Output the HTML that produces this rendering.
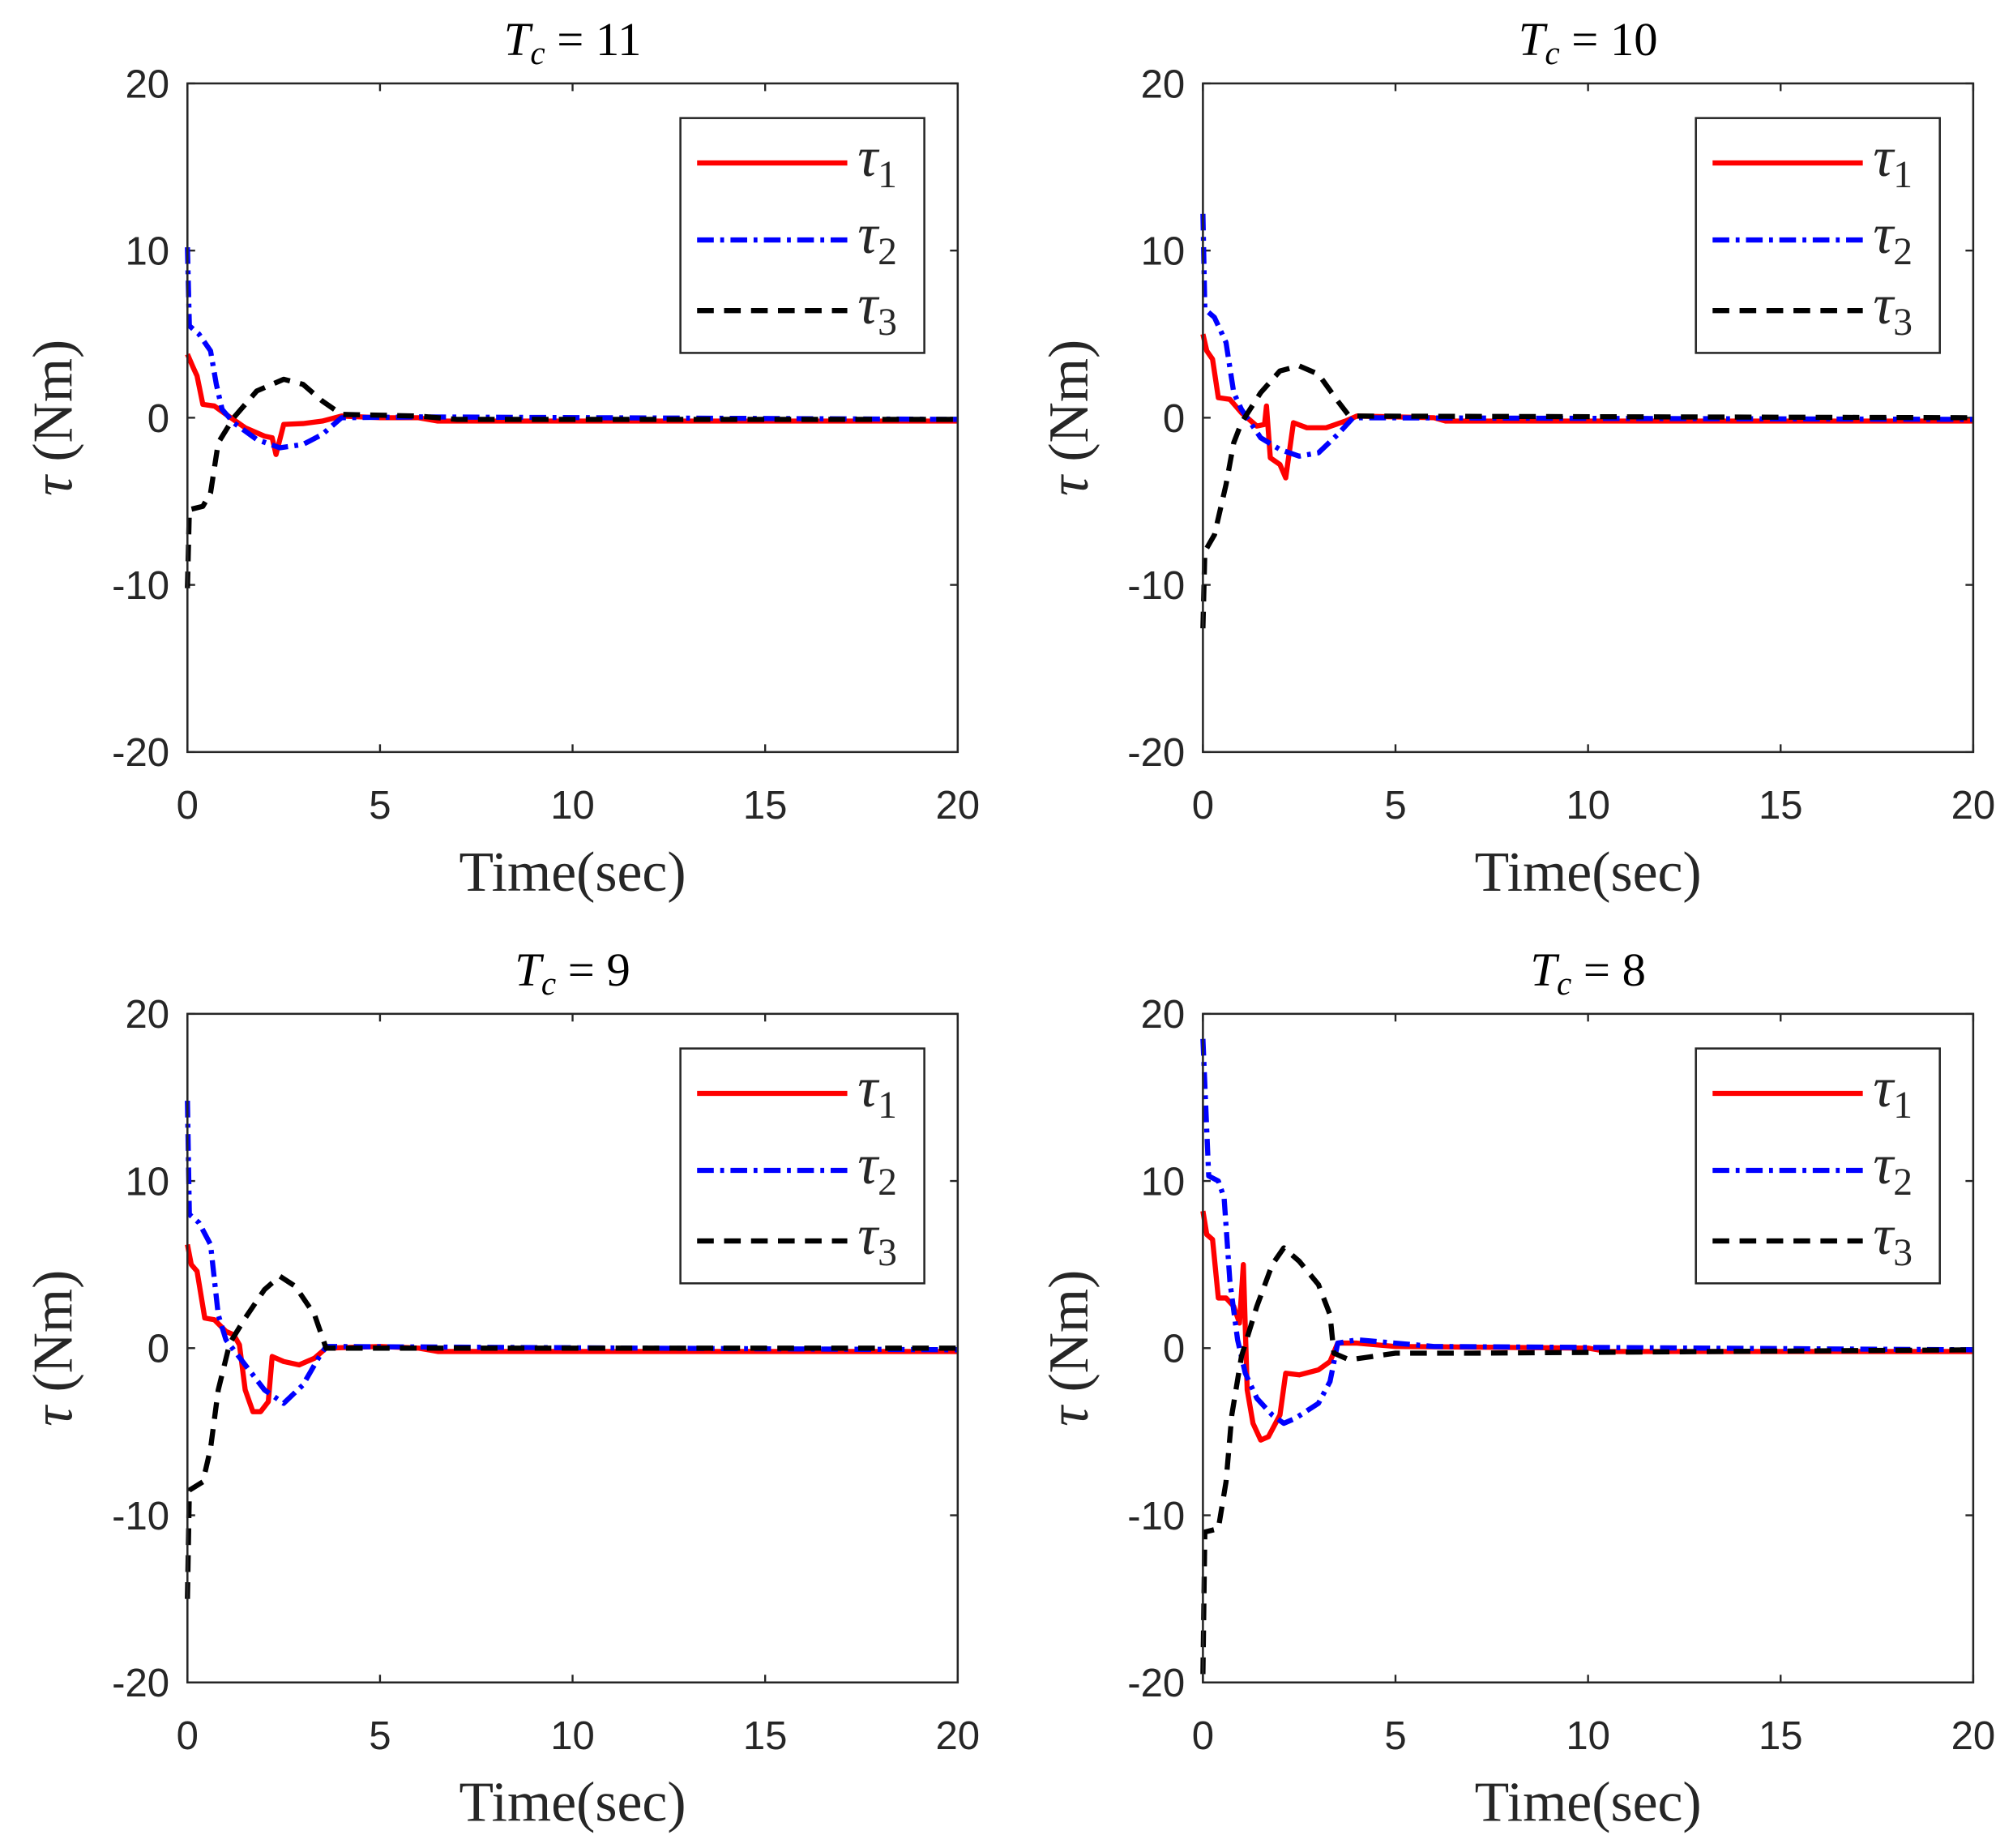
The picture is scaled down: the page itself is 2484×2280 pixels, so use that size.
<!DOCTYPE html>
<html><head><meta charset="utf-8"><style>
html,body{margin:0;padding:0;background:#fff;}
svg{display:block;}
</style></head><body>
<svg id="fig" width="2484" height="2280" viewBox="0 0 1568 1440" preserveAspectRatio="none" xmlns="http://www.w3.org/2000/svg"></svg>
<script>
const titles = ["11", "10", "9", "8"];
const xTicks = [0, 5, 10, 15, 20];
const yTicks = [-20, -10, 0, 10, 20];
const legendLabels = ["1", "2", "3"];
// series per panel: [time, value] pairs
const tau1_p1 = [[0,3.8],[0.15,3],[0.25,2.5],[0.4,0.8],[0.7,0.7],[1,0.2],[1.5,-0.6],[2,-1.1],[2.2,-1.2],[2.3,-2.2],[2.5,-0.4],[3,-0.35],[3.5,-0.2],[4,0.1],[5,0],[6,0],[6.5,-0.2],[20,-0.2]];
const tau2_p1 = [[0,10.2],[0.05,5.5],[0.3,5],[0.6,4],[0.75,2],[0.9,0.5],[1.2,-0.3],[1.8,-1.3],[2.4,-1.8],[3,-1.6],[3.5,-1],[4,0],[6,0.05],[20,-0.1]];
const tau3_p1 = [[0,-10.2],[0.05,-5.5],[0.4,-5.3],[0.6,-4.5],[0.8,-1.5],[1.2,0],[1.8,1.6],[2.5,2.3],[3,2],[3.5,1],[4,0.2],[6,0.1],[7,-0.1],[20,-0.1]];
const tau1_p2 = [[0,5],[0.1,4],[0.25,3.5],[0.4,1.2],[0.7,1.1],[1,0.3],[1.4,-0.5],[1.6,-0.4],[1.65,0.7],[1.75,-2.4],[2,-2.8],[2.15,-3.6],[2.35,-0.3],[2.7,-0.6],[3.2,-0.6],[3.7,-0.2],[4,0.1],[6,0],[6.3,-0.2],[20,-0.2]];
const tau2_p2 = [[0,12.2],[0.05,6.5],[0.3,6],[0.6,4.5],[0.8,1.5],[1,0.5],[1.5,-1.2],[2,-1.9],[2.5,-2.3],[3,-2.1],[3.5,-1],[3.9,0],[20,-0.1]];
const tau3_p2 = [[0,-12.6],[0.05,-8],[0.3,-7],[0.6,-4],[0.8,-1.5],[1,-0.3],[1.5,1.5],[2,2.8],[2.5,3.1],[3,2.6],[3.5,1],[3.8,0.1],[20,0]];
const tau1_p3 = [[0,6.2],[0.1,5],[0.25,4.6],[0.45,1.8],[0.7,1.7],[1,1],[1.2,0.8],[1.35,0.2],[1.5,-2.5],[1.7,-3.8],[1.9,-3.8],[2.1,-3.2],[2.2,-0.5],[2.5,-0.8],[2.9,-1],[3.3,-0.6],[3.6,0],[5,0.1],[6,0],[6.5,-0.2],[20,-0.2]];
const tau2_p3 = [[0,14.8],[0.05,8],[0.3,7.5],[0.6,6.2],[0.8,2],[1,0.5],[1.5,-1],[2,-2.5],[2.5,-3.3],[3,-2.2],[3.4,-0.6],[3.6,0.1],[20,-0.1]];
const tau3_p3 = [[0,-15],[0.05,-8.5],[0.4,-8],[0.6,-6],[0.8,-2.5],[1.1,0.3],[1.5,1.8],[2,3.5],[2.4,4.3],[2.8,3.7],[3.3,2],[3.6,0],[20,0]];
const tau1_p4 = [[0,8.2],[0.1,6.8],[0.25,6.5],[0.4,3],[0.6,3],[0.8,2.5],[0.95,1.5],[1.05,5],[1.15,-2.5],[1.3,-4.5],[1.5,-5.5],[1.7,-5.3],[2.0,-4],[2.15,-1.5],[2.5,-1.6],[3,-1.3],[3.3,-0.8],[3.5,0.3],[4,0.3],[5,0.1],[10,0],[10.5,-0.2],[20,-0.2]];
const tau2_p4 = [[0,18.5],[0.15,10.3],[0.4,10],[0.55,9],[0.7,4],[0.9,0.5],[1.1,-1.5],[1.4,-3],[1.8,-4],[2.1,-4.5],[2.4,-4.2],[3,-3.3],[3.3,-2],[3.5,0.3],[4,0.5],[6,0.1],[20,-0.1]];
const tau3_p4 = [[0,-19.5],[0.05,-11],[0.4,-10.8],[0.6,-8],[0.75,-4],[1,-0.5],[1.4,2.5],[1.8,5],[2.1,6],[2.5,5.2],[3.0,3.8],[3.3,2],[3.4,-0.3],[3.8,-0.7],[5,-0.3],[7,-0.3],[20,-0.1]];
const panelSeries = [[tau1_p1,tau2_p1,tau3_p1],[tau1_p2,tau2_p2,tau3_p2],[tau1_p3,tau2_p3,tau3_p3],[tau1_p4,tau2_p4,tau3_p4]];

const NS = "http://www.w3.org/2000/svg";
const svg = document.getElementById("fig");
function mk(tag, attrs, parent, text){
  const e = document.createElementNS(NS, tag);
  for (const k in attrs) e.setAttribute(k, attrs[k]);
  if (text !== undefined) e.textContent = text;
  (parent||svg).appendChild(e);
  return e;
}
const styles = [
  {stroke:"#ff0000", dash:""},
  {stroke:"#0000ff", dash:"13 5 3 5"},
  {stroke:"#000000", dash:"13 8"}
];
const origins = [[146,65],[937,65],[146,790],[937,790]];
const W = 600, H = 521;
origins.forEach((o, p) => {
  const [L, T] = o;
  const g = mk("g", {});
  
  
  const xs = v => L + v / 20 * W;
  const ys = v => T + (20 - v) / 40 * H;
  const cp = mk("clipPath", {id:"c"+p}, g);
  mk("rect", {x:L-3, y:T-3, width:W+6, height:H+6}, cp);
  const tt = mk("text", {x:L+W/2, y:T-22, "text-anchor":"middle", "font-family":"Liberation Serif, serif", "font-size":"37"}, g);
  
  
  mk("tspan", {"font-style":"italic"}, tt, "T");
  mk("tspan", {"font-style":"italic", "font-size":"26", dy:"7"}, tt, "c");
  mk("tspan", {dy:"-7"}, tt, " = " + titles[p]);
  xTicks.forEach(v => {
    const x = xs(v);
    mk("line", {x1:x, y1:T+H, x2:x, y2:T+H-6, stroke:"#262626", "stroke-width":1.5}, g);
    mk("line", {x1:x, y1:T, x2:x, y2:T+6, stroke:"#262626", "stroke-width":1.5}, g);
    const t = mk("text", {x:x, y:T+H+52, "text-anchor":"middle", "font-family":"Liberation Sans, sans-serif", "font-size":"31", fill:"#262626"}, g, String(v));
    
    
  });
  yTicks.forEach(v => {
    const y = ys(v);
    mk("line", {x1:L, y1:y, x2:L+6, y2:y, stroke:"#262626", "stroke-width":1.5}, g);
    mk("line", {x1:L+W, y1:y, x2:L+W-6, y2:y, stroke:"#262626", "stroke-width":1.5}, g);
    const t = mk("text", {x:L-14, y:y+11, "text-anchor":"end", "font-family":"Liberation Sans, sans-serif", "font-size":"31", fill:"#262626"}, g, String(v));
    
    
  });
  const xl = mk("text", {x:L+W/2, y:T+H+108, "text-anchor":"middle", "font-family":"Liberation Serif, serif", "font-size":"44", fill:"#262626"}, g, "Time(sec)");
  
  
  const yl = mk("text", {x:0, y:0, transform:`translate(${L-90},${T+H/2}) rotate(-90)`, "text-anchor":"middle", "font-family":"Liberation Serif, serif", "font-size":"44", fill:"#262626"}, g);
  
  
  mk("tspan", {"font-style":"italic"}, yl, "τ");
  mk("tspan", {}, yl, "  (Nm)");
  panelSeries[p].forEach((s, i) => {
    const d = s.map((pt, k) => (k ? "L" : "M") + xs(pt[0]).toFixed(2) + " " + ys(pt[1]).toFixed(2)).join(" ");
    const path = mk("path", {d:d, fill:"none", stroke:styles[i].stroke, "stroke-width":4, "stroke-dasharray":styles[i].dash, "clip-path":`url(#c${p})`, "stroke-linejoin":"round"}, g);
    
    
  });
  const box = mk("rect", {x:L, y:T, width:W, height:H, fill:"none", stroke:"#262626", "stroke-width":1.6}, g);
  
  
  const lg = mk("g", {}, g);
  
  
  mk("rect", {x:L+384, y:T+27, width:190, height:183, fill:"#fff", stroke:"#262626", "stroke-width":1.6}, lg);
  const rows = [62, 122, 177];
  legendLabels.forEach((lab, i) => {
    const y = T + rows[i];
    const e = mk("g", {}, lg);
    
    
    mk("line", {x1:L+397, y1:y, x2:L+514, y2:y, stroke:styles[i].stroke, "stroke-width":4, "stroke-dasharray":styles[i].dash}, e);
    const t = mk("text", {x:L+522, y:y+10, "font-family":"Liberation Serif, serif", "font-size":"44", fill:"#262626"}, e);
    mk("tspan", {"font-style":"italic"}, t, "τ");
    mk("tspan", {"font-size":"30", dy:"9"}, t, lab);
  });
});
</script>
</body></html>
